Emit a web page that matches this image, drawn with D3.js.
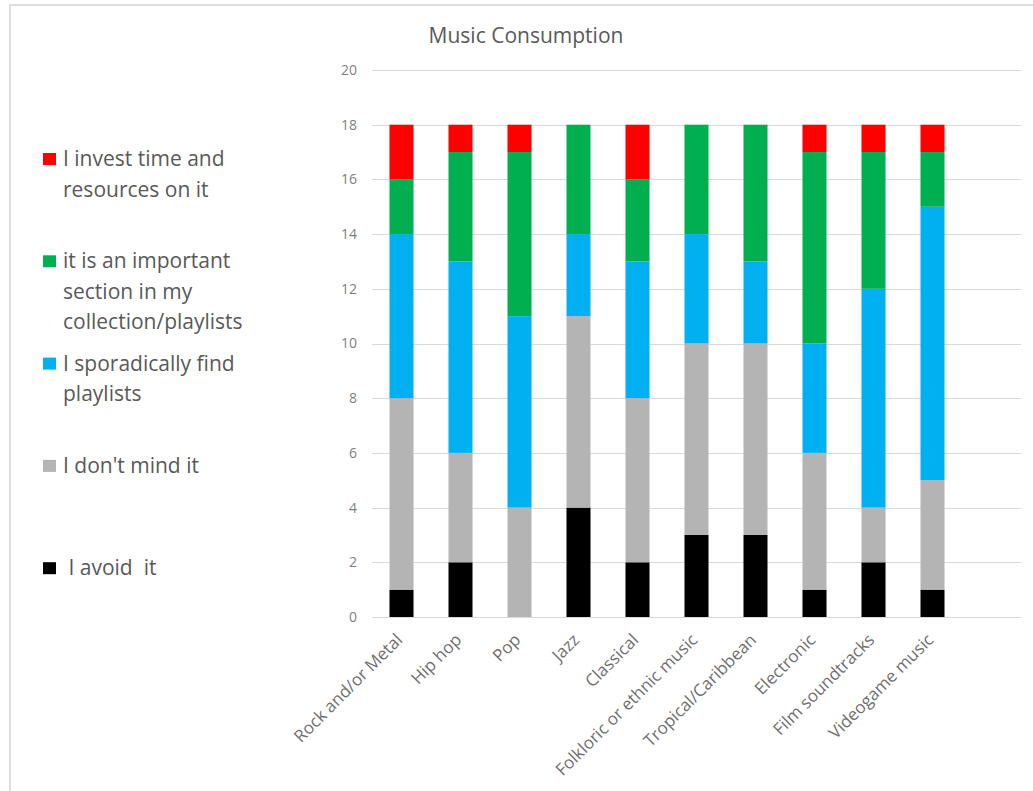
<!DOCTYPE html>
<html>
<head>
<meta charset="utf-8">
<script src="https://cdn.jsdelivr.net/npm/d3@7"></script>
<style>
  html, body { margin: 0; padding: 0; background: #fff; }
  svg { display: block; }
  text { font-family: "Open Sans", sans-serif; fill: #595959; }
</style>
</head>
<body>
<div id="chart"></div>
<script>
// Music consumption stacked bars
const categories = ["Rock and/or Metal", "Hip hop", "Pop", "Jazz", "Classical",
    "Folkloric or ethnic music", "Tropical/Caribbean", "Electronic", "Film soundtracks", "Videogame music"];
const avoid     = [1, 2, 0, 4, 2, 3, 3, 1, 2, 1];
const dontMind  = [7, 4, 4, 7, 6, 7, 7, 5, 2, 4];
const sporadic  = [6, 7, 7, 3, 5, 4, 3, 4, 8, 10];
const important = [2, 4, 6, 4, 3, 4, 5, 7, 5, 2];
const invest    = [2, 1, 1, 0, 2, 0, 0, 1, 1, 1];
const yTicks = [0, 2, 4, 6, 8, 10, 12, 14, 16, 18, 20];

const seriesKeys = ["avoid", "dontMind", "sporadic", "important", "invest"];
const seriesLabels = {
    invest: ["I invest time and", "resources on it"],
    important: ["it is an important", "section in my", "collection/playlists"],
    sporadic: ["I sporadically find", "playlists"],
    dontMind: ["I don't mind it"],
    avoid: [" I avoid  it"]
};
const colors = {
    avoid: "#000000",
    dontMind: "#b4b4b4",
    sporadic: "#00b0f0",
    important: "#00b050",
    invest: "#ff0000"
};

const width = 1033, height = 791;
const svg = d3.select("#chart").append("svg")
    .attr("width", width)
    .attr("height", height);

// outer chart frame (cropped at right/bottom)
svg.append("path")
    .attr("d", `M10,${height + 5} V5 H${width + 5}`)
    .attr("fill", "none")
    .attr("stroke", "#dedede")
    .attr("stroke-width", 2);

const plotLeft = 372, plotRight = 1021;
const yTop = 70, yBottom = 617;

const table = categories.map((c, i) => ({
    category: c,
    avoid: avoid[i],
    dontMind: dontMind[i],
    sporadic: sporadic[i],
    important: important[i],
    invest: invest[i]
}));

const x = d3.scaleBand()
    .domain(categories)
    .range([plotLeft, plotLeft + 59 * categories.length])
    .paddingInner(0.593)
    .paddingOuter(0.2965);

const y = d3.scaleLinear()
    .domain([0, 20])
    .range([yBottom, yTop]);

// gridlines
svg.append("g")
    .selectAll("line")
    .data(yTicks)
    .enter()
    .append("line")
    .attr("x1", plotLeft)
    .attr("x2", plotRight)
    .attr("y1", d => Math.round(y(d)) + 0.5)
    .attr("y2", d => Math.round(y(d)) + 0.5)
    .attr("stroke", "#d9d9d9")
    .attr("stroke-width", 1);

// y axis labels
const yAxis = svg.append("g")
    .attr("transform", `translate(${plotLeft - 15},0)`)
    .call(d3.axisLeft(y).tickValues(yTicks).tickSize(0).tickPadding(0));
yAxis.select(".domain").remove();
yAxis.selectAll("text")
    .style("font-family", "'Open Sans', sans-serif")
    .style("font-size", "14px")
    .style("fill", "#7f7f7f");

// stacked bars
const stacked = d3.stack().keys(seriesKeys)(table);
svg.append("g")
    .selectAll("g")
    .data(stacked)
    .enter()
    .append("g")
    .attr("fill", d => colors[d.key])
    .selectAll("rect")
    .data(d => d)
    .enter()
    .append("rect")
    .attr("x", d => x(d.data.category))
    .attr("width", x.bandwidth())
    .attr("y", d => y(d[1]))
    .attr("height", d => y(d[0]) - y(d[1]));

// x labels, rotated
svg.append("g")
    .selectAll("text")
    .data(categories)
    .enter()
    .append("text")
    .attr("transform", d => `translate(${x(d) + x.bandwidth() / 2 + 2},${yBottom + 24}) rotate(-45)`)
    .attr("text-anchor", "end")
    .style("font-size", "17px")
    .style("fill", "#6f6f6f")
    .text(d => d);

// title
svg.append("text")
    .attr("x", 526)
    .attr("y", 43)
    .attr("text-anchor", "middle")
    .style("font-size", "21px")
    .text("Music Consumption");

// legend
const legendOrder = ["invest", "important", "sporadic", "dontMind", "avoid"];
const legend = svg.append("g");
legendOrder.forEach((key, i) => {
    const baseY = 166 + i * 102.3;
    legend.append("rect")
        .attr("x", 43)
        .attr("y", baseY - 13)
        .attr("width", 13)
        .attr("height", 12)
        .attr("fill", colors[key]);
    const t = legend.append("text")
        .attr("x", 63)
        .attr("y", baseY)
        .style("font-size", "21px")
        .style("white-space", "pre")
        .attr("xml:space", "preserve");
    seriesLabels[key].forEach((line, j) => {
        t.append("tspan")
            .attr("x", 63)
            .attr("dy", j === 0 ? 0 : 30.5)
            .text(line);
    });
});
</script>
</body>
</html>
